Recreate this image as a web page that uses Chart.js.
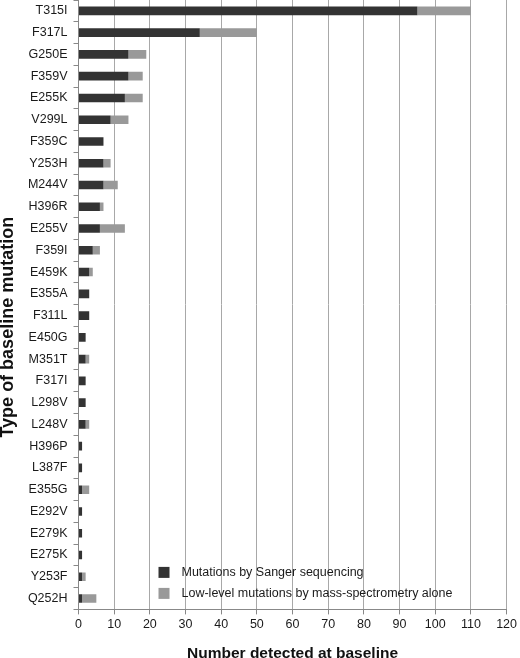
<!DOCTYPE html>
<html>
<head>
<meta charset="utf-8">
<script src="https://cdn.jsdelivr.net/npm/chart.js@4.4.1/dist/chart.umd.min.js"></script>
<style>
  html, body { margin: 0; padding: 0; background: #fff; }
  #wrap { width: 520px; height: 658px; position: relative; }
</style>
</head>
<body>
<div id="wrap"><canvas id="baseline"></canvas></div>
<script>
const mutations = [
  'T315I', 'F317L', 'G250E', 'F359V', 'E255K', 'V299L', 'F359C', 'Y253H', 'M244V', 'H396R',
  'E255V', 'F359I', 'E459K', 'E355A', 'F311L', 'E450G', 'M351T', 'F317I', 'L298V', 'L248V',
  'H396P', 'L387F', 'E355G', 'E292V', 'E279K', 'E275K', 'Y253F', 'Q252H'
];
// detected by Sanger sequencing
const sanger = [
  95, 34, 14, 14, 13, 9, 7, 7, 7, 6,
  6, 4, 3, 3, 3, 2, 2, 2, 2, 2,
  1, 1, 1, 1, 1, 1, 1, 1
];
// extra low-level ones only seen by mass-spectrometry
const massSpecOnly = [
  15, 16, 5, 4, 5, 5, 0, 2, 4, 1,
  7, 2, 1, 0, 0, 0, 1, 0, 0, 1,
  0, 0, 2, 0, 0, 0, 1, 4
];
const xTicks = [0, 10, 20, 30, 40, 50, 60, 70, 80, 90, 100, 110, 120];

const fontFamily = '"Liberation Sans", Arial, Helvetica, sans-serif';

// legend drawn inside the plot, bottom right like the original
const innerLegend = {
  id: 'innerLegend',
  afterDraw(chart) {
    const { ctx, chartArea } = chart;
    const x = chartArea.left + 80;
    let y = chartArea.bottom - 37;
    ctx.save();
    ctx.font = '12.5px ' + fontFamily;
    ctx.textBaseline = 'middle';
    chart.data.datasets.forEach((ds) => {
      ctx.fillStyle = ds.backgroundColor;
      ctx.fillRect(x, y - 5.5, 11, 11);
      ctx.fillStyle = '#1a1a1a';
      ctx.fillText(ds.label, x + 23, y);
      y += 21;
    });
    ctx.restore();
  }
};

new Chart('baseline', {
  type: 'bar',
  data: {
    labels: mutations,
    datasets: [
      {
        label: 'Mutations by Sanger sequencing',
        data: sanger,
        backgroundColor: '#333333',
        barPercentage: 0.44,
        categoryPercentage: 0.9,
      },
      {
        label: 'Low-level mutations by mass-spectrometry alone',
        data: massSpecOnly,
        backgroundColor: '#999999',
        barPercentage: 0.44,
        categoryPercentage: 0.9,
      },
    ],
  },
  options: {
    indexAxis: 'y',
    responsive: true,
    maintainAspectRatio: false,
    animation: false,
    layout: { padding: { top: 0, right: 0, bottom: -5, left: -1 } },
    plugins: {
      legend: { display: false },
      tooltip: { enabled: false },
    },
    scales: {
      x: {
        stacked: true,
        min: 0,
        max: 120,
        afterBuildTicks: (axis) => {
          axis.ticks = xTicks.map((v) => ({ value: v }));
        },
        grid: {
          color: '#a8a8a8',
          lineWidth: 1,
          tickLength: 5,
          tickColor: '#888',
        },
        border: { color: '#888', width: 1 },
        ticks: {
          color: '#1a1a1a',
          font: { family: fontFamily, size: 12.5 },
          padding: 3,
          maxRotation: 0,
        },
        title: {
          display: true,
          text: 'Number detected at baseline',
          color: '#111',
          font: { family: fontFamily, size: 15.5, weight: 'bold' },
          padding: { top: 9, bottom: 0 },
        },
      },
      y: {
        stacked: true,
        // the plot runs right up to the top edge in the original
        afterFit: (scale) => {
          scale.paddingTop = 0;
          scale.paddingBottom = 0;
        },
        grid: {
          drawOnChartArea: false,
          tickLength: 5,
          tickColor: '#888',
          offset: true,
        },
        border: { color: '#888', width: 1 },
        ticks: {
          color: '#1a1a1a',
          font: { family: fontFamily, size: 12.5 },
          padding: 6,
          autoSkip: false,
        },
        title: {
          display: true,
          // trailing spaces push the rotated title down, the original sits a bit low
          text: 'Type of baseline mutation         ',
          color: '#111',
          font: { family: fontFamily, size: 18, weight: 'bold', lineHeight: 1.05 },
          padding: { top: 0, bottom: 4 },
        },
      },
    },
  },
  plugins: [innerLegend],
});
</script>
</body>
</html>
